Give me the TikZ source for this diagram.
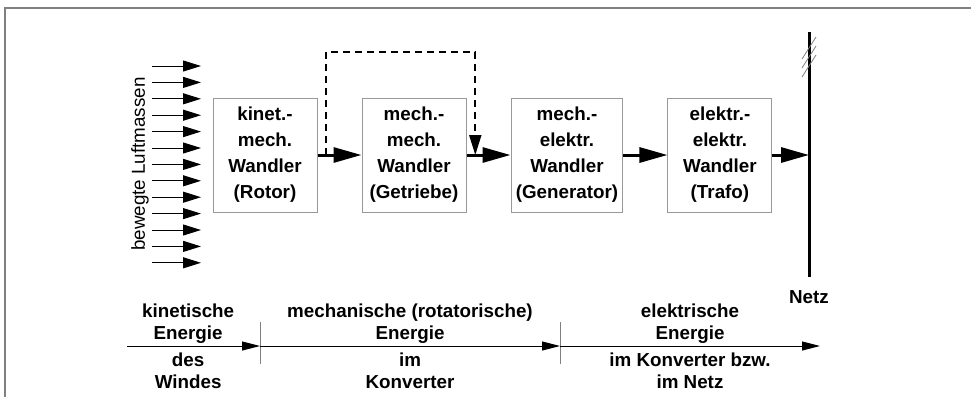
\documentclass[tikz,border=0pt]{standalone}
\usepackage{fontspec}
\setmainfont{Liberation Sans}
\usetikzlibrary{positioning,arrows.meta,calc}

\begin{document}
\begin{tikzpicture}[x=0.5pt,y=-0.5pt,node distance=22pt,
   every node/.style={font=\fontsize{9.4}{13}\selectfont\bfseries},
   wandler/.style={draw=gray!80,line width=0.5pt,align=center,
     minimum width=52pt,minimum height=57pt,inner xsep=2.4pt},
   energie/.style={align=center,font=\fontsize{9.4}{11}\selectfont\bfseries},
   fluss/.style={line width=1.5pt,-{Triangle[length=14pt,width=7.5pt]}},
   wind/.style={line width=0.5pt,-{Triangle[length=9pt,width=5.5pt]}},
   achse/.style={line width=0.5pt,-{Triangle[length=9pt,width=4.5pt]}},
   rueck/.style={line width=1pt,dash pattern=on 3.5pt off 2.5pt,
     -{Triangle[length=10pt,width=6pt]}}]
  \useasboundingbox (0,0) rectangle (971,397);
  \draw[gray,line width=1pt] (5,397) -- (5,8) -- (971,8);

  % wind
  \foreach \i in {0,...,12} {
    \coordinate (w\i) at (152,{66+16.4*\i});
    \draw[wind] (w\i) -- ++(49,0);
  }
  \node (luft) [rotate=90,font=\fontsize{9.4}{13}\selectfont\mdseries]
    at (140,164) {bewegte Luftmassen};

  % wandler chain
  \node (k1) [wandler] at (265,155) {kinet.-\\mech.\\Wandler\\(Rotor)};
  \node (k2) [wandler,right=of k1] {mech.-\\mech.\\Wandler\\(Getriebe)};
  \node (k3) [wandler,right=of k2] {mech.-\\elektr.\\Wandler\\(Generator)};
  \node (k4) [wandler,right=of k3] {elektr.-\\elektr.\\Wandler\\(Trafo)};

  % netz
  \coordinate (n1) at (809,32);
  \coordinate (n2) at (809,277);
  \draw[line width=1.5pt] (n1) -- (n2);
  \foreach \h in {48,57,66}
    \draw[gray,line width=0.4pt] (802,\h+11) -- (816,\h-11);
  \node (netz) [below=3pt of n2] {Netz};

  \draw[fluss] (k1) -- (k2);
  \draw[fluss] (k2) -- (k3);
  \draw[fluss] (k3) -- (k4);
  \draw[fluss] (k4.east) -- (k4.east -| n1);

  % rueckwirkung
  \coordinate (fb1) at ($(k1.east)!0.2!(k2.west)$);
  \coordinate (fb2) at ($(k2.east)!0.2!(k3.west)$);
  \draw[rueck] (fb1) -- ++(0,-103) -| (fb2);

  % energieformen
  \coordinate (e0) at (127,346);
  \coordinate (e1) at (260,346);
  \coordinate (e2) at (560,346);
  \coordinate (e3) at (820,346);
  \draw[gray,line width=0.4pt] (e1) ++(0,-24) -- ++(0,42);
  \draw[gray,line width=0.4pt] (e2) ++(0,-24) -- ++(0,42);
  \draw[achse] (e0) -- node[energie,above=-2.5pt,pos=0.46] (kin) {kinetische\\Energie}
    node[energie,below,pos=0.46] (win) {des\\Windes} (e1);
  \draw[achse] (e1) -- node[energie,above=-2.5pt] (mech) {mechanische (rotatorische)\\Energie}
    node[energie,below] (konv) {im\\Konverter} (e2);
  \draw[achse] (e2) -- node[energie,above=-2.5pt] (elek) {elektrische\\Energie}
    node[energie,below] (netzk) {im Konverter bzw.\\im Netz} (e3);
\end{tikzpicture}
\end{document}
